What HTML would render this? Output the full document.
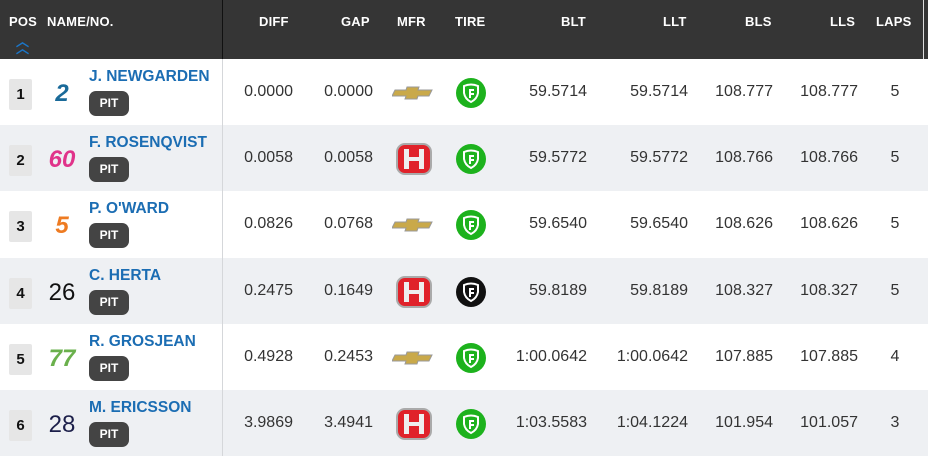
<!DOCTYPE html>
<html><head><style>
*{margin:0;padding:0;box-sizing:border-box}
body{width:928px;height:456px;overflow:hidden;background:#fff;font-family:"Liberation Sans",sans-serif;position:relative}
.hdr{position:absolute;left:0;top:0;width:928px;height:59px;background:#353535}
.h{position:absolute;top:14px;color:#fff;font-weight:bold;font-size:13px;letter-spacing:0.2px}
.row{position:absolute;left:0;width:928px;height:66px}
.alt{background:#eef0f3}
.vl{position:absolute;left:222px;top:0;width:1px;height:456px;background:#d5d7da}
.c{position:absolute;font-size:16px;color:#333}
.r{text-align:right}
.pos{position:absolute;left:9px;top:20px;width:23px;height:31px;background:#e6e6e6;border-radius:2px;font-weight:bold;font-size:15px;text-align:center;line-height:31px;color:#111}
.num{position:absolute;left:44px;width:36px;text-align:center;top:20px;font-size:24px;font-weight:bold;line-height:30px}
.nm{position:absolute;left:89px;top:9px;color:#1b6db3;font-weight:bold;font-size:15.5px;letter-spacing:0}
.pit{position:absolute;left:89px;top:32px;width:40px;height:25px;background:#444;border-radius:7px;color:#fff;font-weight:bold;font-size:12px;text-align:center;line-height:25px}
.tire{position:absolute;left:456px;top:19px;width:30px;height:30px;border-radius:50%;background:#1db21d}
.tire svg{position:absolute;left:0;top:0}
</style></head><body>
<div class="hdr">
<div class="h" style="left:9px">POS</div>
<div class="h" style="left:47px">NAME/NO.</div>
<div style="position:absolute;left:16px;top:38px;color:#1b76c8;font-size:13px;font-weight:bold;line-height:7px">︿<br>︿</div>
<div style="position:absolute;left:222px;top:0;width:1px;height:59px;background:#111"></div>
<div style="position:absolute;left:923px;top:0;width:1px;height:59px;background:#ddd"></div>
<div class="h" style="left:259px">DIFF</div>
<div class="h" style="left:341px">GAP</div>
<div class="h" style="left:397px">MFR</div>
<div class="h" style="left:455px">TIRE</div>
<div class="h" style="left:561px">BLT</div>
<div class="h" style="left:663px">LLT</div>
<div class="h" style="left:745px">BLS</div>
<div class="h" style="left:830px">LLS</div>
<div class="h" style="left:876px">LAPS</div>
</div>

<div id="rows"></div>
<div class="vl" style="top:59px;height:397px"></div>
<script>
var d=[
["1","2","#1a6a99","J. NEWGARDEN","0.0000","0.0000","c","g","59.5714","59.5714","108.777","108.777","5"],
["2","60","#e0338a","F. ROSENQVIST","0.0058","0.0058","h","g","59.5772","59.5772","108.766","108.766","5"],
["3","5","#ee7b22","P. O'WARD","0.0826","0.0768","c","g","59.6540","59.6540","108.626","108.626","5"],
["4","26","#111","C. HERTA","0.2475","0.1649","h","b","59.8189","59.8189","108.327","108.327","5"],
["5","77","#6ab04c","R. GROSJEAN","0.4928","0.2453","c","g","1:00.0642","1:00.0642","107.885","107.885","4"],
["6","28","#1c1f4a","M. ERICSSON","3.9869","3.4941","h","g","1:03.5583","1:04.1224","101.954","101.057","3"]];
var tops=[59,125,191,258,324,390],h="";
d.forEach(function(r,i){
var ital=(r[1]=="60"||r[1]=="77"||r[1]=="5"||r[1]=="2")?"font-style:italic;":"";
var nw=r[1]=="26"||r[1]=="28"?"font-weight:normal;":"";
h+='<div class="row'+(i%2?' alt':'')+'" style="top:'+tops[i]+'px">';
h+='<div class="pos">'+r[0]+'</div><div class="num" style="color:'+r[2]+';'+ital+nw+'">'+r[1]+'</div>';
h+='<div class="nm">'+r[3]+'</div><div class="pit">PIT</div>';
h+='<div class="c r" style="left:200px;width:93px;top:24px">'+r[4]+'</div>';
h+='<div class="c r" style="left:290px;width:83px;top:24px">'+r[5]+'</div>';
if(r[6]=="c")h+='<svg style="position:absolute;left:392px;top:27px" width="42" height="14"><polygon points="3,4 14,4 15,1 27,1 26,4 40,4 37,10 26,10 25,13 13,13 14,10 0,10" fill="#c9a94a" stroke="#999" stroke-width="1"/></svg>';
else h+='<svg style="position:absolute;left:396px;top:18px" width="36" height="32"><rect x="1" y="1" width="34" height="30" rx="8" fill="#e0222a" stroke="#aaa" stroke-width="2"/><path d="M8 6h5v8h10V6h5v20h-5v-8H13v8H8z" fill="#eee"/></svg>';
h+='<div class="tire" style="background:'+(r[7]=="g"?"#1db21d":"#111")+'"><svg width="30" height="30"><path d="M8 8 Q15 5 22 8 L22 15 Q21 21 15 24 Q9 21 8 15Z" fill="none" stroke="#fff" stroke-width="2"/><path d="M13 11h5v2h-3v2h3v2h-3v3h-2z" fill="#fff"/></svg></div>';
h+='<div class="c r" style="left:480px;width:107px;top:24px">'+r[8]+'</div>';
h+='<div class="c r" style="left:590px;width:98px;top:24px">'+r[9]+'</div>';
h+='<div class="c r" style="left:690px;width:83px;top:24px">'+r[10]+'</div>';
h+='<div class="c r" style="left:775px;width:83px;top:24px">'+r[11]+'</div>';
h+='<div class="c" style="left:880px;width:30px;text-align:center;top:24px">'+r[12]+'</div>';
h+='</div>';});
document.getElementById("rows").innerHTML=h;
</script>
</body></html>
